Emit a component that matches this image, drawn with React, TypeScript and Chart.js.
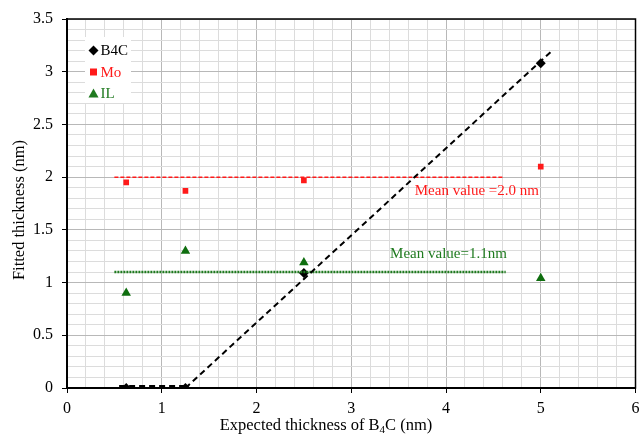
import React, { useEffect, useRef } from "react";
import { Chart, registerables } from "chart.js";

Chart.register(...registerables);

const expected = [0.625, 1.25, 2.5, 5];
const b4cValues = [0, 0, 1.09, 3.08];
const moValues = [1.95, 1.87, 1.97, 2.1];
const ilValues = [0.9, 1.3, 1.19, 1.04];

const b4cLowX = [0.55, 1.25];
const b4cLowY = [0.02, 0.02];
const b4cFitX = [1.25, 5.12];
const b4cFitY = [0, 3.2];
const moMeanX = [0.5, 4.6];
const moMeanY = [2.0, 2.0];
const ilMeanX = [0.5, 4.63];
const ilMeanY = [1.1, 1.1];

const moMeanLabel = "Mean value =2.0 nm";
const ilMeanLabel = "Mean value=1.1nm";
const moLabelPos = { x: 3.67, y: 1.87 };
const ilLabelPos = { x: 3.41, y: 1.27 };

const xTitleA = "Expected thickness of B";
const xTitleSub = "4";
const xTitleB = "C (nm)";
const yTitle = "Fitted thickness (nm)";

const legendNames = ["B4C", "Mo", "IL"];

const RED = "#ff1a1a";
const GREEN = "#1f7a1f";
const FONT = "'Liberation Serif', 'Times New Roman', serif";

const pts = (xs: number[], ys: number[]) => xs.map((x, i) => ({ x, y: ys[i] }));

const isMajor = (v: number, step: number) => Math.abs(v / step - Math.round(v / step)) < 1e-6;

export default function App() {
  const ref = useRef<HTMLCanvasElement | null>(null);
  useEffect(() => {
    if (!ref.current) return;
    const overlay = {
      id: "overlay",
      afterDraw(chart: any) {
        const c = chart.ctx;
        const a = chart.chartArea;
        const xs = chart.scales.x;
        const ys = chart.scales.y;
        c.save();
        // frame
        c.strokeStyle = "#000";
        c.lineWidth = 1.5;
        c.strokeRect(a.left, a.top, a.right - a.left, a.bottom - a.top);
        // mean labels
        c.font = `15px ${FONT}`;
        c.textBaseline = "middle";
        c.textAlign = "left";
        c.fillStyle = RED;
        c.fillText(moMeanLabel, xs.getPixelForValue(moLabelPos.x), ys.getPixelForValue(moLabelPos.y));
        c.fillStyle = GREEN;
        c.fillText(ilMeanLabel, xs.getPixelForValue(ilLabelPos.x), ys.getPixelForValue(ilLabelPos.y));
        // legend
        const lx = a.left + 18;
        const ly = a.top + 18;
        c.fillStyle = "#fff";
        c.fillRect(lx, ly, 46, 66);
        const colors = ["#000", RED, GREEN];
        for (let i = 0; i < 3; i++) {
          const cy = ly + 13.5 + i * 21.5;
          const cx = lx + 8.5;
          c.fillStyle = colors[i];
          c.beginPath();
          if (i === 0) {
            c.moveTo(cx, cy - 5);
            c.lineTo(cx + 5, cy);
            c.lineTo(cx, cy + 5);
            c.lineTo(cx - 5, cy);
          } else if (i === 1) {
            c.rect(cx - 3.5, cy - 3.5, 7, 7);
          } else {
            c.moveTo(cx, cy - 5);
            c.lineTo(cx + 5, cy + 4);
            c.lineTo(cx - 5, cy + 4);
          }
          c.closePath();
          c.fill();
          c.font = `15px ${FONT}`;
          c.textAlign = "left";
          c.textBaseline = "middle";
          c.fillText(legendNames[i], cx + 7, cy + 1);
        }
        // x title
        c.fillStyle = "#000";
        c.font = `16.5px ${FONT}`;
        c.textBaseline = "alphabetic";
        const wA = c.measureText(xTitleA).width;
        c.font = `11px ${FONT}`;
        const wS = c.measureText(xTitleSub).width;
        c.font = `16.5px ${FONT}`;
        const wB = c.measureText(xTitleB).width;
        let tx = 326 - (wA + wS + wB) / 2;
        const ty = 430;
        c.fillText(xTitleA, tx, ty);
        tx += wA;
        c.font = `11px ${FONT}`;
        c.fillText(xTitleSub, tx, ty + 3);
        tx += wS;
        c.font = `16.5px ${FONT}`;
        c.fillText(xTitleB, tx, ty);
        // y title
        c.translate(20, 210);
        c.rotate(-Math.PI / 2);
        c.textAlign = "center";
        c.textBaseline = "middle";
        c.fillText(yTitle, 0, 0);
        c.restore();
      },
    };
    const chart = new Chart(ref.current, {
      type: "scatter",
      data: {
        datasets: [
          {
            type: "line",
            data: pts(b4cLowX, b4cLowY),
            borderColor: "#000",
            borderWidth: 2,
            borderDash: [6, 4],
            pointRadius: 0,
            fill: false,
          },
          {
            type: "line",
            data: pts(b4cFitX, b4cFitY),
            borderColor: "#000",
            borderWidth: 2,
            borderDash: [6, 4],
            pointRadius: 0,
            fill: false,
          },
          {
            type: "line",
            data: pts(moMeanX, moMeanY),
            borderColor: RED,
            borderWidth: 1.5,
            borderDash: [4, 2],
            pointRadius: 0,
            fill: false,
          },
          {
            type: "line",
            data: pts(ilMeanX, ilMeanY),
            borderColor: GREEN,
            borderWidth: 2.5,
            borderDash: [2, 1],
            pointRadius: 0,
            fill: false,
          },
          {
            data: pts(expected, b4cValues),
            pointStyle: "rectRot",
            pointRadius: 5,
            backgroundColor: "#000",
            borderColor: "#000",
            borderWidth: 0,
          },
          {
            data: pts(expected, moValues),
            pointStyle: "rect",
            pointRadius: 4,
            backgroundColor: RED,
            borderColor: RED,
            borderWidth: 0,
          },
          {
            data: pts(expected, ilValues),
            pointStyle: "triangle",
            pointRadius: 5.5,
            backgroundColor: "#0f6e0f",
            borderColor: "#0f6e0f",
            borderWidth: 0,
          },
        ],
      },
      options: {
        animation: false,
        responsive: false,
        layout: { padding: { top: 19, right: 5, left: 0, bottom: 0 } },
        plugins: { legend: { display: false }, tooltip: { enabled: false } },
        scales: {
          x: {
            type: "linear",
            min: 0,
            max: 6,
            afterFit: (s: any) => {
              s.height = 49;
              s.paddingLeft = 0;
              s.paddingRight = 0;
            },
            border: { color: "#000", width: 2 },
            grid: {
              color: (ctx: any) => (isMajor(ctx.tick.value, 1) ? "#b8b8b8" : "#dcdcdc"),
              lineWidth: 1,
              tickLength: 5,
              tickColor: (ctx: any) => (isMajor(ctx.tick.value, 1) ? "#000" : "rgba(0,0,0,0)"),
            },
            ticks: {
              stepSize: 0.2,
              autoSkip: false,
              maxRotation: 0,
              padding: 6,
              color: "#000",
              font: { family: FONT, size: 16 },
              callback: (v: any) => (isMajor(Number(v), 1) ? String(Math.round(Number(v))) : ""),
            },
          },
          y: {
            type: "linear",
            min: 0,
            max: 3.5,
            afterFit: (s: any) => {
              s.width = 67;
              s.paddingTop = 0;
              s.paddingBottom = 0;
            },
            border: { color: "#000", width: 2 },
            grid: {
              color: (ctx: any) => (isMajor(ctx.tick.value, 0.5) ? "#b8b8b8" : "#dcdcdc"),
              lineWidth: 1,
              tickLength: 5,
              tickColor: (ctx: any) => (isMajor(ctx.tick.value, 0.5) ? "#000" : "rgba(0,0,0,0)"),
            },
            ticks: {
              stepSize: 0.1,
              autoSkip: false,
              padding: 9,
              color: "#000",
              font: { family: FONT, size: 16 },
              callback: (v: any) => {
                const n = Number(v);
                return isMajor(n, 0.5) ? String(Math.round(n * 10) / 10) : "";
              },
            },
          },
        },
      },
      plugins: [overlay],
    } as any);
    return () => chart.destroy();
  }, []);
  return (
    <div style={{ position: "absolute", left: 0, top: 0, width: 641, height: 437, background: "#fff" }}>
      <canvas ref={ref} width={641} height={437} style={{ width: 641, height: 437 }} />
    </div>
  );
}
